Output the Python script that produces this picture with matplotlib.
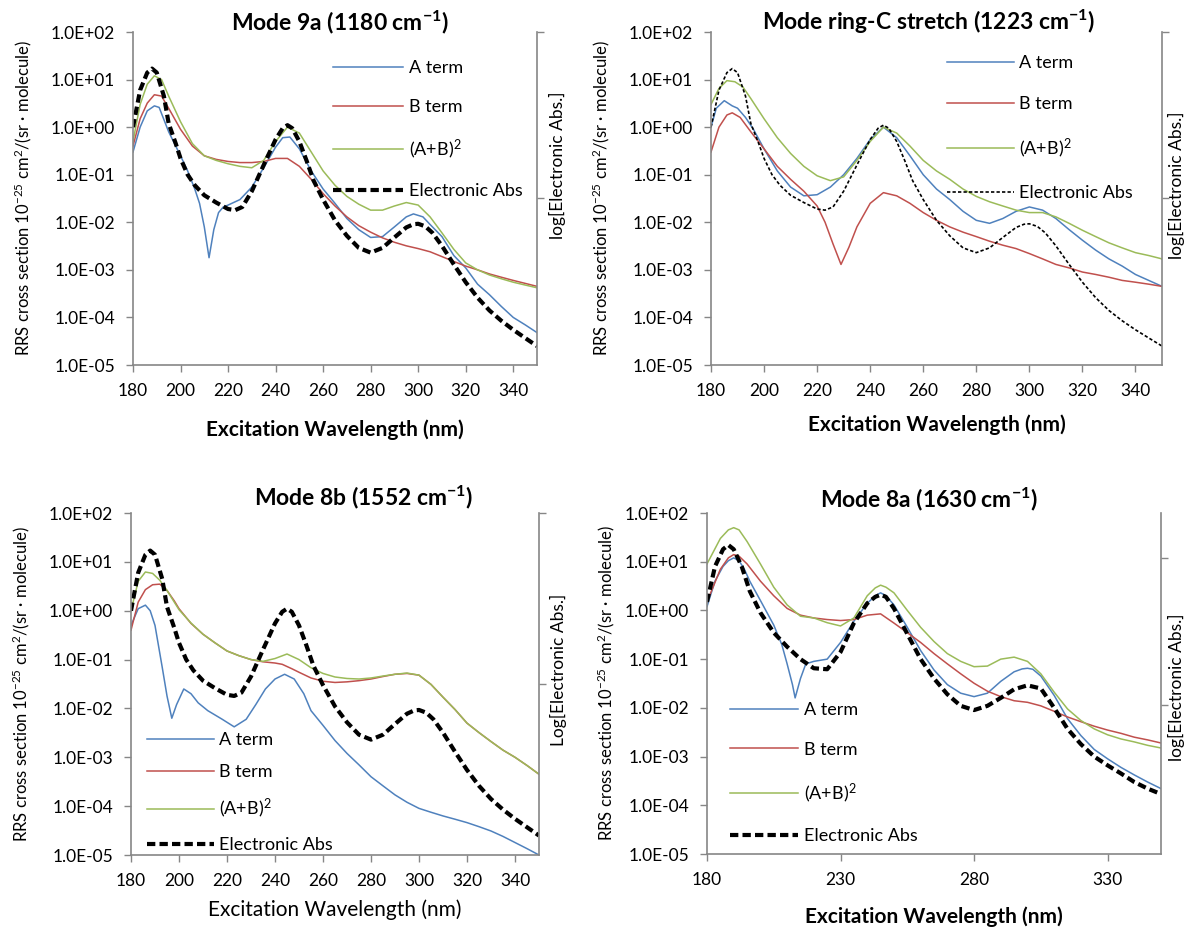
import matplotlib
matplotlib.use("Agg")
import matplotlib.pyplot as plt
from matplotlib.ticker import FixedLocator, FixedFormatter, NullLocator

plt.rcParams['font.family'] = ['Lato', 'DejaVu Sans']
plt.rcParams['mathtext.fontset'] = 'custom'
plt.rcParams['mathtext.rm'] = 'Lato'
plt.rcParams['mathtext.it'] = 'Lato:italic'
plt.rcParams['mathtext.bf'] = 'Lato:bold'

# ---------------------------------------------------------------- data
decades = [1e-5, 1e-4, 1e-3, 1e-2, 1e-1, 1e0, 1e1, 1e2]
decade_labels = ["1.0E-05", "1.0E-04", "1.0E-03", "1.0E-02",
                 "1.0E-01", "1.0E+00", "1.0E+01", "1.0E+02"]
xticks_20 = [180, 200, 220, 240, 260, 280, 300, 320, 340]
xticks_50 = [180, 230, 280, 330]

# electronic absorption (shared by modes 9a, ring-C and 8b)
abs_wl = [180, 183, 186, 188, 190, 193, 195, 198, 200, 203, 206, 210, 215, 220, 223,
          226, 230, 235, 240, 243, 245, 247, 250, 253, 256, 260, 265, 270, 275, 280,
          285, 290, 295, 298, 300, 303, 306, 310, 315, 320, 325, 330, 335, 340, 345, 350]
abs_uv = [1.0, 6.0, 14, 17, 14, 4.5, 1.2, 0.45, 0.22, 0.1, 0.06, 0.037, 0.026, 0.019, 0.018,
          0.021, 0.045, 0.16, 0.55, 0.95, 1.1, 0.95, 0.5, 0.2, 0.075, 0.03, 0.011, 0.0052, 0.0029, 0.0023,
          0.0029, 0.0048, 0.0078, 0.0091, 0.0093, 0.0082, 0.006, 0.0032, 0.0013, 0.00055,
          0.00026, 0.00014, 0.000085, 0.000055, 0.000037, 0.000025]

# Mode 9a (1180 cm-1)
a_9a_wl = [180, 183, 186, 189, 191, 195, 200, 203, 206, 208, 210, 212, 214, 216, 218, 220,
           225, 230, 235, 240, 243, 246, 250, 255, 260, 265, 270, 275, 280, 285, 290, 295,
           298, 302, 305, 310, 315, 320, 325, 330, 335, 340, 345, 350]
a_9a = [0.3, 1.0, 2.2, 2.8, 2.6, 0.8, 0.25, 0.12, 0.05, 0.025, 0.008, 0.0018, 0.007, 0.016,
        0.021, 0.023, 0.03, 0.055, 0.14, 0.38, 0.6, 0.62, 0.35, 0.12, 0.05, 0.025, 0.012,
        0.007, 0.0048, 0.005, 0.008, 0.013, 0.015, 0.013, 0.009, 0.005, 0.002, 0.0011,
        0.0005, 0.0003, 0.00017, 0.0001, 0.00007, 0.000048]
bg_9a_wl = [180, 183, 186, 189, 192, 195, 200, 205, 210, 215, 220, 225, 230, 235, 240, 245,
            250, 255, 260, 265, 270, 275, 280, 285, 290, 295, 300, 305, 310, 315, 320, 325,
            330, 335, 340, 345, 350]
b_9a = [0.4, 1.5, 3.2, 4.8, 4.5, 2.5, 0.9, 0.4, 0.25, 0.21, 0.19, 0.18, 0.18, 0.19, 0.22,
        0.22, 0.15, 0.08, 0.04, 0.022, 0.013, 0.0085, 0.0062, 0.0047, 0.0038, 0.0032,
        0.0028, 0.0024, 0.0019, 0.0015, 0.0012, 0.001, 0.00082, 0.0007, 0.0006, 0.00052, 0.00045]
ab_9a = [0.5, 3.0, 8.0, 12, 10, 4.5, 1.3, 0.45, 0.25, 0.2, 0.17, 0.15, 0.14, 0.2, 0.5, 1.0,
         0.75, 0.3, 0.12, 0.06, 0.035, 0.024, 0.018, 0.018, 0.022, 0.026, 0.023, 0.013,
         0.006, 0.0027, 0.0014, 0.001, 0.00078, 0.00065, 0.00055, 0.00048, 0.00042]

# Mode ring-C stretch (1223 cm-1)
a_rc_wl = [180, 182, 185, 188, 190, 193, 196, 200, 205, 210, 215, 220, 225, 230, 235, 240,
           245, 250, 255, 260, 265, 270, 275, 280, 285, 290, 295, 300, 305, 310, 315, 320,
           325, 330, 335, 340, 345, 350]
a_rc = [1.0, 2.5, 3.6, 2.8, 2.5, 1.6, 0.9, 0.35, 0.12, 0.055, 0.036, 0.038, 0.055, 0.1,
        0.22, 0.55, 1.0, 0.6, 0.25, 0.1, 0.05, 0.03, 0.017, 0.011, 0.0095, 0.012, 0.017,
        0.021, 0.018, 0.012, 0.007, 0.0042, 0.0026, 0.0017, 0.0012, 0.0008, 0.0006, 0.00045]
b_rc_wl = [180, 183, 186, 188, 191, 195, 200, 205, 210, 215, 220, 223, 226, 229, 232, 235,
           240, 245, 250, 255, 260, 265, 270, 275, 280, 285, 290, 295, 300, 305, 310, 315,
           320, 325, 330, 335, 340, 345, 350]
b_rc = [0.3, 1.0, 1.8, 2.0, 1.6, 0.8, 0.35, 0.15, 0.08, 0.045, 0.022, 0.01, 0.0035, 0.0013,
        0.003, 0.008, 0.025, 0.042, 0.036, 0.025, 0.016, 0.011, 0.008, 0.0062, 0.005, 0.004,
        0.0033, 0.0028, 0.0022, 0.0017, 0.0013, 0.0011, 0.0009, 0.0008, 0.0007, 0.0006,
        0.00055, 0.0005, 0.00045]
ab_rc_wl = [180, 183, 186, 189, 192, 195, 200, 205, 210, 215, 220, 225, 230, 235, 240, 245,
            250, 255, 260, 265, 270, 275, 280, 285, 290, 295, 300, 305, 310, 315, 320, 325,
            330, 335, 340, 345, 350]
ab_rc = [3.0, 6.5, 9.5, 9.0, 7.0, 4.0, 1.5, 0.6, 0.28, 0.15, 0.095, 0.075, 0.09, 0.2, 0.5,
         1.0, 0.75, 0.4, 0.2, 0.12, 0.08, 0.05, 0.035, 0.027, 0.022, 0.018, 0.016, 0.016,
         0.013, 0.0095, 0.0068, 0.005, 0.0037, 0.0029, 0.0023, 0.002, 0.0017]

# Mode 8b (1552 cm-1)
a_8b_wl = [180, 183, 186, 188, 190, 193, 195, 197, 199, 202, 205, 208, 212, 218, 223, 228,
           232, 236, 240, 244, 248, 252, 255, 260, 265, 270, 275, 280, 285, 290, 295, 300,
           305, 310, 315, 320, 325, 330, 335, 340, 345, 350]
a_8b = [0.5, 1.1, 1.3, 1.0, 0.5, 0.07, 0.018, 0.0063, 0.012, 0.025, 0.02, 0.013, 0.009,
        0.006, 0.0042, 0.006, 0.012, 0.025, 0.04, 0.05, 0.04, 0.02, 0.009, 0.0045, 0.0022,
        0.0012, 0.0007, 0.0004, 0.00026, 0.00017, 0.00012, 0.00009, 0.000075, 0.000063,
        0.000054, 0.000046, 0.000038, 0.000031, 0.000024, 0.000018, 0.0000135, 0.00001]
b_8b_wl = [180, 183, 186, 189, 192, 195, 198, 200, 205, 210, 215, 220, 225, 230, 235, 240,
           243, 247, 250, 255, 260, 265, 270, 275, 280, 285, 290, 295, 300, 305, 310, 315,
           320, 325, 330, 335, 340, 345, 350]
b_8b = [0.4, 1.5, 2.7, 3.4, 3.5, 2.6, 1.6, 1.1, 0.55, 0.33, 0.22, 0.15, 0.12, 0.1, 0.09,
        0.085, 0.08, 0.065, 0.055, 0.042, 0.036, 0.034, 0.035, 0.037, 0.04, 0.045, 0.05,
        0.052, 0.048, 0.031, 0.017, 0.0095, 0.005, 0.0032, 0.0021, 0.0014, 0.001, 0.00068,
        0.00045]
ab_8b_wl = [180, 183, 186, 189, 192, 195, 200, 205, 210, 215, 220, 225, 230, 235, 240, 245,
            250, 255, 260, 265, 270, 275, 280, 285, 290, 295, 300, 305, 310, 315, 320, 325,
            330, 335, 340, 345, 350]
ab_8b = [1.0, 4.0, 6.2, 5.8, 4.2, 2.6, 1.05, 0.56, 0.33, 0.22, 0.15, 0.12, 0.1, 0.092,
         0.105, 0.13, 0.1, 0.068, 0.052, 0.044, 0.041, 0.04, 0.042, 0.046, 0.05, 0.053,
         0.048, 0.031, 0.017, 0.0095, 0.005, 0.0032, 0.0021, 0.0014, 0.001, 0.00068, 0.00045]

# Mode 8a (1630 cm-1)
abs_8a_wl = [180, 183, 186, 188, 190, 193, 196, 200, 205, 210, 215, 220, 225, 230, 235,
             240, 243, 245, 247, 250, 255, 260, 265, 270, 275, 280, 285, 290, 295, 300,
             305, 310, 315, 320, 325, 330, 335, 340, 345, 350]
abs_8a = [1.5, 8, 18, 22, 18, 8, 2.5, 0.9, 0.35, 0.18, 0.1, 0.065, 0.062, 0.14, 0.55, 1.4,
          1.9, 2.1, 1.9, 1.1, 0.33, 0.1, 0.04, 0.019, 0.011, 0.009, 0.011, 0.016, 0.024,
          0.029, 0.025, 0.01, 0.0037, 0.0018, 0.001, 0.00066, 0.00045, 0.0003, 0.00022, 0.00017]
a_8a_wl = [180, 183, 186, 188, 190, 192, 194, 196, 200, 205, 208, 210, 212, 213, 215, 217,
           220, 225, 230, 235, 240, 243, 245, 247, 250, 255, 260, 265, 270, 275, 280, 285,
           290, 295, 298, 300, 302, 305, 310, 315, 320, 325, 330, 335, 340, 345, 350]
a_8a = [1.2, 4, 8, 10.5, 12, 10.5, 7, 4, 1.6, 0.5, 0.2, 0.08, 0.03, 0.016, 0.04, 0.08,
        0.09, 0.1, 0.22, 0.6, 1.4, 2.0, 2.3, 2.0, 1.3, 0.45, 0.15, 0.06, 0.03, 0.02, 0.017,
        0.02, 0.035, 0.055, 0.063, 0.065, 0.062, 0.045, 0.018, 0.006, 0.0027, 0.0014,
        0.0009, 0.0006, 0.00042, 0.0003, 0.00022]
b_8a_wl = [180, 185, 188, 190, 192, 195, 200, 205, 210, 215, 220, 225, 230, 235, 240, 245,
           250, 255, 260, 265, 270, 275, 280, 285, 290, 295, 300, 305, 310, 315, 320, 325,
           330, 335, 340, 345, 350]
b_8a = [1.5, 7, 12, 14, 13, 9, 4, 2, 1.1, 0.8, 0.7, 0.65, 0.62, 0.65, 0.8, 0.85, 0.55,
        0.35, 0.22, 0.13, 0.08, 0.05, 0.032, 0.022, 0.017, 0.014, 0.013, 0.011, 0.0085,
        0.0065, 0.0052, 0.0042, 0.0035, 0.003, 0.0025, 0.0022, 0.0019]
ab_8a_wl = [180, 185, 188, 190, 192, 195, 200, 205, 210, 215, 220, 225, 230, 235, 240, 243,
            245, 247, 250, 255, 260, 265, 270, 275, 280, 285, 290, 295, 300, 305, 310, 315,
            320, 325, 330, 335, 340, 345, 350]
ab_8a = [9, 30, 45, 50, 45, 26, 9, 3, 1.3, 0.76, 0.7, 0.56, 0.48, 0.7, 2.0, 2.9, 3.3, 3.0,
         2.3, 1.0, 0.45, 0.23, 0.13, 0.09, 0.07, 0.072, 0.1, 0.11, 0.09, 0.05, 0.021, 0.0095,
         0.0055, 0.0037, 0.0028, 0.0023, 0.002, 0.0017, 0.0015]

series_names = ["A term", "B term", "(A+B)$^2$", "Electronic Abs"]

# ---------------------------------------------------------------- styling
BLUE, RED, GREEN = "#4F81BD", "#C0504D", "#9BBB59"
SPINE = "#868686"
W, H = 1189, 930

fig = plt.figure(figsize=(W / 100, H / 100), dpi=100)


def px_rect(x0, y0, x1, y1):
    return [x0 / W, 1 - y1 / H, (x1 - x0) / W, (y1 - y0) / H]


def draw_panel(rect, curves, abs_style, xticks, title, title_xy, leg_anchor,
               leg_handle, leg_spacing, right_ticks, right_label, right_label_xy,
               ylabel_x, xlabel_y, xlabel_weight):
    ax = fig.add_axes(rect)
    handles = []
    for (wl, vals, color), name in zip(curves, series_names[:3]):
        h, = ax.plot(wl, vals, color=color, lw=1.1, label=name)
        handles.append(h)
    wl, vals = abs_style[0], abs_style[1]
    h, = ax.plot(wl, vals, color="black", lw=abs_style[2],
                 linestyle=(0, abs_style[3]), label=series_names[3])
    handles.append(h)

    ax.set_yscale("log")
    ax.set_ylim(decades[0], decades[-1])
    ax.set_xlim(180, 350)
    ax.yaxis.set_major_locator(FixedLocator(decades))
    ax.yaxis.set_major_formatter(FixedFormatter(decade_labels))
    ax.yaxis.set_minor_locator(NullLocator())
    ax.set_xticks(xticks)
    ax.tick_params(axis="both", direction="out", length=5, width=1, color=SPINE,
                   labelsize=12.5, pad=8)
    for side in ("top", "right"):
        ax.spines[side].set_visible(False)
    for side in ("left", "bottom"):
        ax.spines[side].set_color(SPINE)
        ax.spines[side].set_linewidth(1.2)

    ax.set_ylabel("RRS cross section 10$^{-25}$ cm$^{2}$/(sr · molecule)",
                  fontsize=12, va="center", ha="center")
    ax.yaxis.set_label_coords(ylabel_x, 0.5)
    ax.set_xlabel("Excitation Wavelength (nm)", fontsize=15, fontweight=xlabel_weight,
                  va="center")
    ax.xaxis.set_label_coords(0.5, xlabel_y)

    ax2 = ax.twinx()
    ax2.set_ylim(0, 1)
    ax2.set_yticks(right_ticks)
    ax2.set_yticklabels([])
    ax2.tick_params(axis="y", direction="out", length=5, width=1, color=SPINE)
    for side in ("top", "left", "bottom"):
        ax2.spines[side].set_visible(False)
    ax2.spines["right"].set_color(SPINE)
    ax2.spines["right"].set_linewidth(1.2)
    ax2.set_ylabel(right_label, fontsize=12.5, va="center", ha="center", rotation=90)
    ax2.yaxis.set_label_coords(*right_label_xy)

    ax.legend(handles=handles, loc="upper left", bbox_to_anchor=leg_anchor,
              frameon=False, fontsize=13, handlelength=leg_handle, handletextpad=0.3,
              labelspacing=leg_spacing, borderpad=0, borderaxespad=0)

    fig.text(title_xy[0] / W, 1 - title_xy[1] / H, title, fontsize=16.5,
             fontweight="bold", ha="center", va="center")
    return ax


# Mode 9a
draw_panel(px_rect(133, 32, 537, 365),
           [(a_9a_wl, a_9a, BLUE), (bg_9a_wl, b_9a, RED), (bg_9a_wl, ab_9a, GREEN)],
           (abs_wl, abs_uv, 3.0, (2, 1)), xticks_20,
           "Mode 9a (1180 cm$^{\\mathbf{-1}}$)", (340, 22),
           (0.495, 0.915), 3.9, 1.25, [0.5, 1.0], "log[Electronic Abs.]", (1.05, 0.6),
           -0.272, -0.195, "bold")

# Mode ring-C stretch
draw_panel(px_rect(711, 32, 1162, 365),
           [(a_rc_wl, a_rc, BLUE), (b_rc_wl, b_rc, RED), (ab_rc_wl, ab_rc, GREEN)],
           (abs_wl, abs_uv, 1.2, (2, 1.3)), xticks_20,
           "Mode ring-C stretch (1223 cm$^{\\mathbf{-1}}$)", (929, 22),
           (0.523, 0.93), 3.7, 1.37, [0.5, 1.0], "log[Electronic Abs.]", (1.032, 0.54),
           -0.243, -0.18, "bold")

# Mode 8b
draw_panel(px_rect(131, 513, 539, 855),
           [(a_8b_wl, a_8b, BLUE), (b_8b_wl, b_8b, RED), (ab_8b_wl, ab_8b, GREEN)],
           (abs_wl, abs_uv, 3.0, (2, 1)), xticks_20,
           "Mode 8b (1552 cm$^{\\mathbf{-1}}$)", (364, 497),
           (0.039, 0.36), 3.7, 0.92, [0.5, 1.0], "Log[Electronic Abs.]", (1.047, 0.54),
           -0.27, -0.16, "normal")

# Mode 8a
draw_panel(px_rect(707, 513, 1161, 854),
           [(a_8a_wl, a_8a, BLUE), (b_8a_wl, b_8a, RED), (ab_8a_wl, ab_8a, GREEN)],
           (abs_8a_wl, abs_8a, 3.0, (2, 1)), xticks_50,
           "Mode 8a (1630 cm$^{\\mathbf{-1}}$)", (929, 499),
           (0.05, 0.445), 3.8, 1.3, [0.438, 0.868], "log[Electronic Abs.]", (1.034, 0.49),
           -0.222, -0.185, "bold")

fig.savefig("out.png", dpi=100)
